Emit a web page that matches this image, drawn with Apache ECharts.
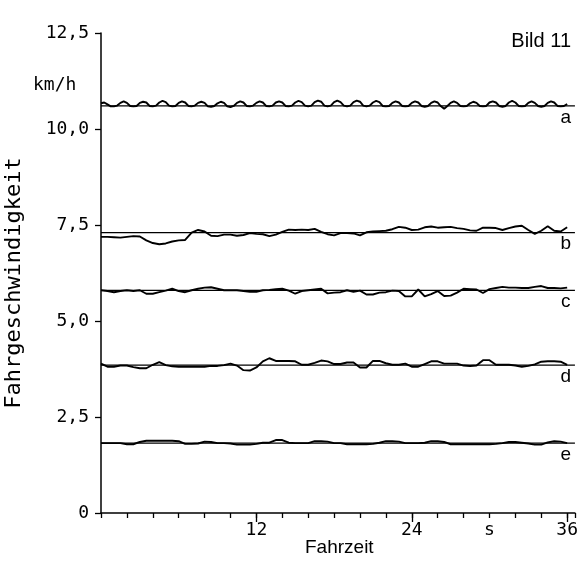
<!DOCTYPE html>
<html>
<head>
<meta charset="utf-8">
<script src="https://cdn.jsdelivr.net/npm/echarts@6/dist/echarts.min.js"></script>
<style>
html,body{margin:0;padding:0;background:#fff;}
#chart{width:581px;height:561px;}
</style>
</head>
<body>
<div id="chart"></div>
<script>
// ---- data ----
const curveNames = ['a', 'b', 'c', 'd', 'e'];
const refLevels = [10.6, 7.3, 5.8, 3.85, 1.82];   // km/h, horizontal reference lines
const stepA = 0.25;   // s, sample spacing of curve a
const stepOther = 0.5; // s, sample spacing of curves b..e

const curveA = [
10.67,10.69,10.64,10.59,10.59,10.61,
10.68,10.72,10.68,10.60,10.59,10.60,
10.68,10.71,10.69,10.60,10.59,10.61,
10.69,10.73,10.70,10.61,10.59,10.60,
10.68,10.72,10.69,10.60,10.59,10.61,
10.68,10.71,10.68,10.59,10.58,10.60,
10.67,10.71,10.68,10.59,10.57,10.60,
10.68,10.72,10.69,10.60,10.59,10.61,
10.68,10.72,10.69,10.60,10.59,10.61,
10.69,10.72,10.69,10.60,10.59,10.61,
10.69,10.73,10.70,10.61,10.59,10.61,
10.70,10.74,10.71,10.61,10.59,10.61,
10.70,10.74,10.70,10.61,10.59,10.61,
10.70,10.74,10.71,10.61,10.59,10.61,
10.69,10.73,10.70,10.60,10.59,10.60,
10.68,10.72,10.69,10.60,10.59,10.60,
10.68,10.72,10.69,10.60,10.58,10.60,
10.68,10.72,10.69,10.59,10.53,10.60,
10.68,10.72,10.68,10.60,10.59,10.60,
10.67,10.71,10.68,10.60,10.59,10.60,
10.69,10.72,10.69,10.60,10.58,10.60,
10.69,10.73,10.69,10.60,10.59,10.60,
10.68,10.72,10.68,10.60,10.58,10.60,
10.68,10.72,10.69,10.60,10.59,10.60,
10.65
];

const curveB = [
7.19,7.19,7.18,7.17,7.19,7.21,7.20,7.10,7.03,7.00,
7.02,7.07,7.10,7.11,7.30,7.37,7.33,7.22,7.21,7.25,
7.25,7.22,7.24,7.29,7.27,7.26,7.21,7.25,7.32,7.38,
7.37,7.38,7.37,7.40,7.32,7.26,7.23,7.29,7.29,7.28,
7.23,7.31,7.33,7.34,7.35,7.39,7.45,7.43,7.37,7.38,
7.44,7.46,7.43,7.44,7.45,7.42,7.40,7.36,7.35,7.43,
7.43,7.42,7.37,7.42,7.46,7.48,7.37,7.27,7.35,7.47,
7.35,7.33,7.44
];

const curveC = [
5.80,5.78,5.75,5.78,5.80,5.78,5.80,5.71,5.71,5.75,
5.79,5.84,5.78,5.75,5.80,5.84,5.87,5.88,5.84,5.80,
5.80,5.80,5.78,5.76,5.76,5.80,5.81,5.83,5.84,5.79,
5.71,5.78,5.80,5.82,5.84,5.72,5.74,5.75,5.80,5.76,
5.79,5.69,5.69,5.74,5.75,5.79,5.78,5.64,5.64,5.82,
5.64,5.70,5.78,5.65,5.66,5.74,5.84,5.83,5.82,5.73,
5.83,5.86,5.89,5.87,5.87,5.86,5.86,5.89,5.91,5.86,
5.86,5.85,5.87
];

const curveD = [
3.89,3.81,3.81,3.84,3.84,3.80,3.77,3.77,3.86,3.93,
3.85,3.82,3.81,3.81,3.81,3.81,3.81,3.83,3.83,3.85,
3.89,3.84,3.72,3.71,3.79,3.95,4.03,3.96,3.96,3.96,
3.95,3.86,3.86,3.91,3.97,3.95,3.88,3.88,3.92,3.92,
3.79,3.79,3.96,3.96,3.90,3.86,3.86,3.89,3.81,3.81,
3.88,3.95,3.95,3.89,3.89,3.89,3.84,3.83,3.84,3.98,
3.98,3.86,3.86,3.86,3.84,3.81,3.83,3.87,3.94,3.95,
3.95,3.94,3.86
];

const curveE = [
1.82,1.82,1.82,1.82,1.79,1.79,1.85,1.88,1.88,1.88,
1.88,1.88,1.87,1.80,1.80,1.81,1.86,1.85,1.82,1.82,
1.81,1.78,1.78,1.78,1.80,1.83,1.83,1.90,1.90,1.83,
1.82,1.82,1.82,1.87,1.87,1.86,1.82,1.82,1.79,1.79,
1.79,1.79,1.80,1.83,1.87,1.87,1.86,1.82,1.82,1.82,
1.83,1.87,1.87,1.85,1.79,1.79,1.79,1.79,1.79,1.79,
1.79,1.80,1.82,1.85,1.85,1.83,1.81,1.78,1.78,1.84,
1.87,1.86,1.82
];

const yTickValues = [0, 2.5, 5, 7.5, 10, 12.5];
const yTickLabels = ['0', '2,5', '5,0', '7,5', '10,0', '12,5'];
const xTickValues = [12, 24, 30, 36];
const xTickLabels = ['12', '24', 's', '36'];
const xMax = 36.6;
const labelTime = 35.9;  // where the curve letters sit

// ---- build ----
function toPairs(vals, step) { return vals.map((v, i) => [i * step, v]); }
const curves = [
  toPairs(curveA, stepA), toPairs(curveB, stepOther), toPairs(curveC, stepOther),
  toPairs(curveD, stepOther), toPairs(curveE, stepOther)
];

const monoFont = '"DejaVu Sans Mono", monospace';
const sansFont = '"Liberation Sans", Arial, sans-serif';
const series = [];
curveNames.forEach((n, i) => {
  series.push({
    name: n + '_ref', type: 'line', xAxisIndex: 0, yAxisIndex: 0,
    data: [[0, refLevels[i]], [xMax, refLevels[i]]],
    symbol: 'none', silent: true,
    lineStyle: { color: '#000', width: 1.3 }
  });
  series.push({
    name: n, type: 'line', xAxisIndex: 0, yAxisIndex: 0,
    data: curves[i], symbol: 'none', silent: true,
    lineStyle: { color: '#000', width: 1.9 }
  });
  series.push({
    name: n + '_label', type: 'scatter', xAxisIndex: 0, yAxisIndex: 0,
    data: [[labelTime, refLevels[i]]], symbolSize: 0, silent: true,
    itemStyle: { opacity: 1, color: '#000' },
    label: { show: true, formatter: n, position: 'bottom', distance: 2,
      fontFamily: sansFont, fontSize: 19, color: '#000', opacity: 1 }
  });
});

const chart = echarts.init(document.getElementById('chart'), null, { renderer: 'canvas' });
chart.setOption({
  backgroundColor: '#fff',
  animation: false,
  grid: { left: 101, right: 6, top: 33, bottom: 48 },
  xAxis: [
    { type: 'value', min: 0, max: xMax, interval: 2,
      axisLine: { lineStyle: { color: '#000', width: 1.5 } },
      axisTick: { inside: false, length: 5, lineStyle: { color: '#000', width: 1.3 } },
      axisLabel: { show: false }, splitLine: { show: false } },
    { type: 'value', min: 0, max: xMax, interval: 6, position: 'bottom',
      axisLine: { show: false },
      axisTick: { show: true, length: 9, lineStyle: { color: '#000', width: 1.3 },
        customValues: [12, 24, 36] },
      axisLabel: { show: true, margin: 8, color: '#000', fontSize: 18, fontFamily: monoFont,
        customValues: xTickValues,
        formatter: v => { const k = xTickValues.indexOf(v); return k >= 0 ? xTickLabels[k] : ''; } },
      splitLine: { show: false } }
  ],
  yAxis: [
    { type: 'value', min: 0, max: 12.5, interval: 2.5,
      axisLine: { show: true, lineStyle: { color: '#000', width: 1.5 } },
      axisTick: { show: true, inside: false, length: 6, lineStyle: { color: '#000', width: 1.3 } },
      axisLabel: { color: '#000', fontSize: 18, fontFamily: monoFont, margin: 12,
        formatter: v => { const k = yTickValues.indexOf(v); return k >= 0 ? yTickLabels[k] : ''; } },
      splitLine: { show: false } }
  ],
  graphic: [
    { type: 'text', left: 33, top: 76, style: { text: 'km/h', font: '18px ' + monoFont, fill: '#000' } },
    { type: 'text', right: 10, top: 31, style: { text: 'Bild 11', font: '20px ' + sansFont, fill: '#000' } },
    { type: 'text', left: 305, top: 538, style: { text: 'Fahrzeit', font: '19px ' + sansFont, fill: '#000' } },
    { type: 'text', x: 14, y: 283, rotation: Math.PI / 2,
      style: { text: 'Fahrgeschwindigkeit', font: '22px ' + monoFont, fill: '#000', align: 'center', verticalAlign: 'middle' } }
  ],
  series: series
});
</script>
</body>
</html>
